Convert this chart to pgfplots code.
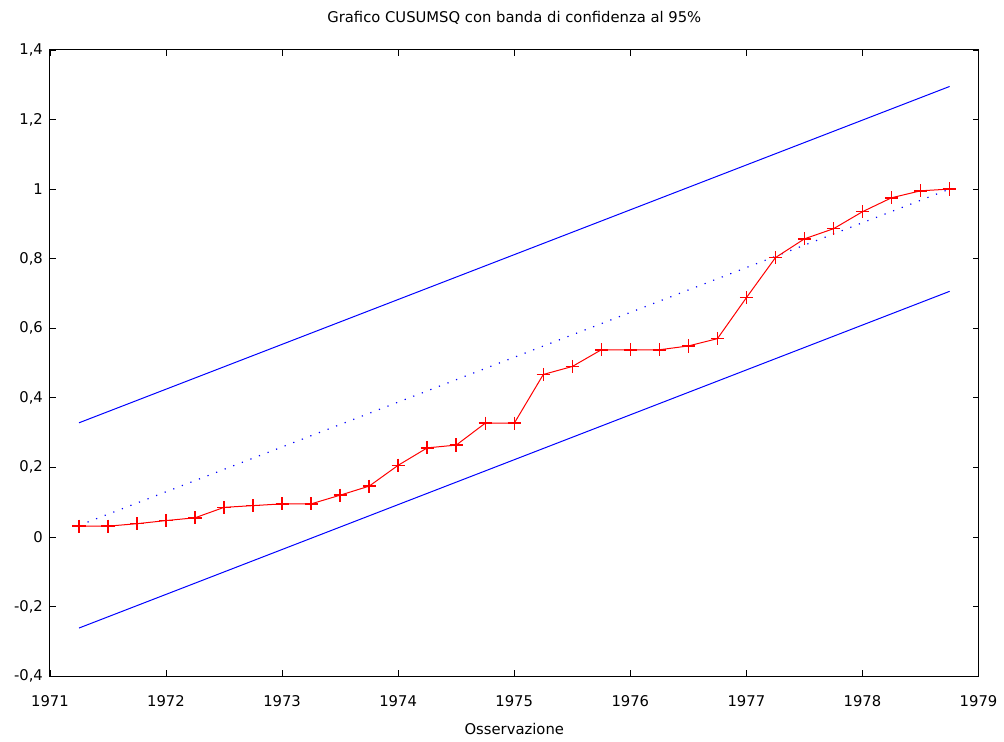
\documentclass[border=0pt]{standalone}
\usepackage{fontspec}
\setmainfont{DejaVu Sans}
\usepackage{pgfplots}
\pgfplotsset{compat=1.18}
\begin{document}
\begin{tikzpicture}
\begin{axis}[
  scale only axis,
  width=465pt, height=313.5pt,
  at={(0,0)}, anchor=south west,
  xmin=1971, xmax=1979, ymin=-0.4, ymax=1.4,
  xtick={1971,...,1979},
  ytick={-0.4,-0.2,0,0.2,0.4,0.6,0.8,1,1.2,1.4},
  tick align=inside,
  major tick length=3pt,
  tick style={black, line width=0.4pt},
  axis line style={black, line width=0.5pt},
  font=\fontsize{7.4pt}{8.5pt}\selectfont,
  /pgf/number format/assume math mode=true,
  x tick label style={/pgf/number format/1000 sep={}, yshift=-6pt},
  y tick label style={/pgf/number format/.cd, use comma, fixed, precision=1},
  title={Grafico CUSUMSQ con banda di confidenza al 95\%},
  title style={yshift=3pt},
  xlabel={Osservazione},
  xlabel style={yshift=-1.5pt},
]
\addplot[blue, line width=0.5pt] coordinates {(1971.25,0.328) (1978.75,1.295)};
\addplot[blue, line width=0.5pt] coordinates {(1971.25,-0.262) (1978.75,0.706)};
\addplot[blue, line width=0.6pt, dash pattern=on 0.6pt off 4pt] coordinates {(1971.25,0.033) (1978.75,1.0)};
\addplot[color=red, draw=red, line width=0.5pt, mark=+, mark size=3.3pt, mark options={draw=red, color=red, solid, line width=0.75pt}] coordinates {
(1971.25,0.031) (1971.5,0.031) (1971.75,0.038) (1972,0.047) (1972.25,0.055)
(1972.5,0.085) (1972.75,0.090) (1973,0.095) (1973.25,0.095) (1973.5,0.120)
(1973.75,0.146) (1974,0.206) (1974.25,0.256) (1974.5,0.264) (1974.75,0.327)
(1975,0.327) (1975.25,0.467) (1975.5,0.490) (1975.75,0.538) (1976,0.538)
(1976.25,0.538) (1976.5,0.549) (1976.75,0.570) (1977,0.688) (1977.25,0.803)
(1977.5,0.857) (1977.75,0.886) (1978,0.935) (1978.25,0.975) (1978.5,0.995) (1978.75,1.0)
};
\end{axis}
\path[use as bounding box] (-25pt,-31.5pt) rectangle (477pt,338.5pt);
\end{tikzpicture}
\end{document}
